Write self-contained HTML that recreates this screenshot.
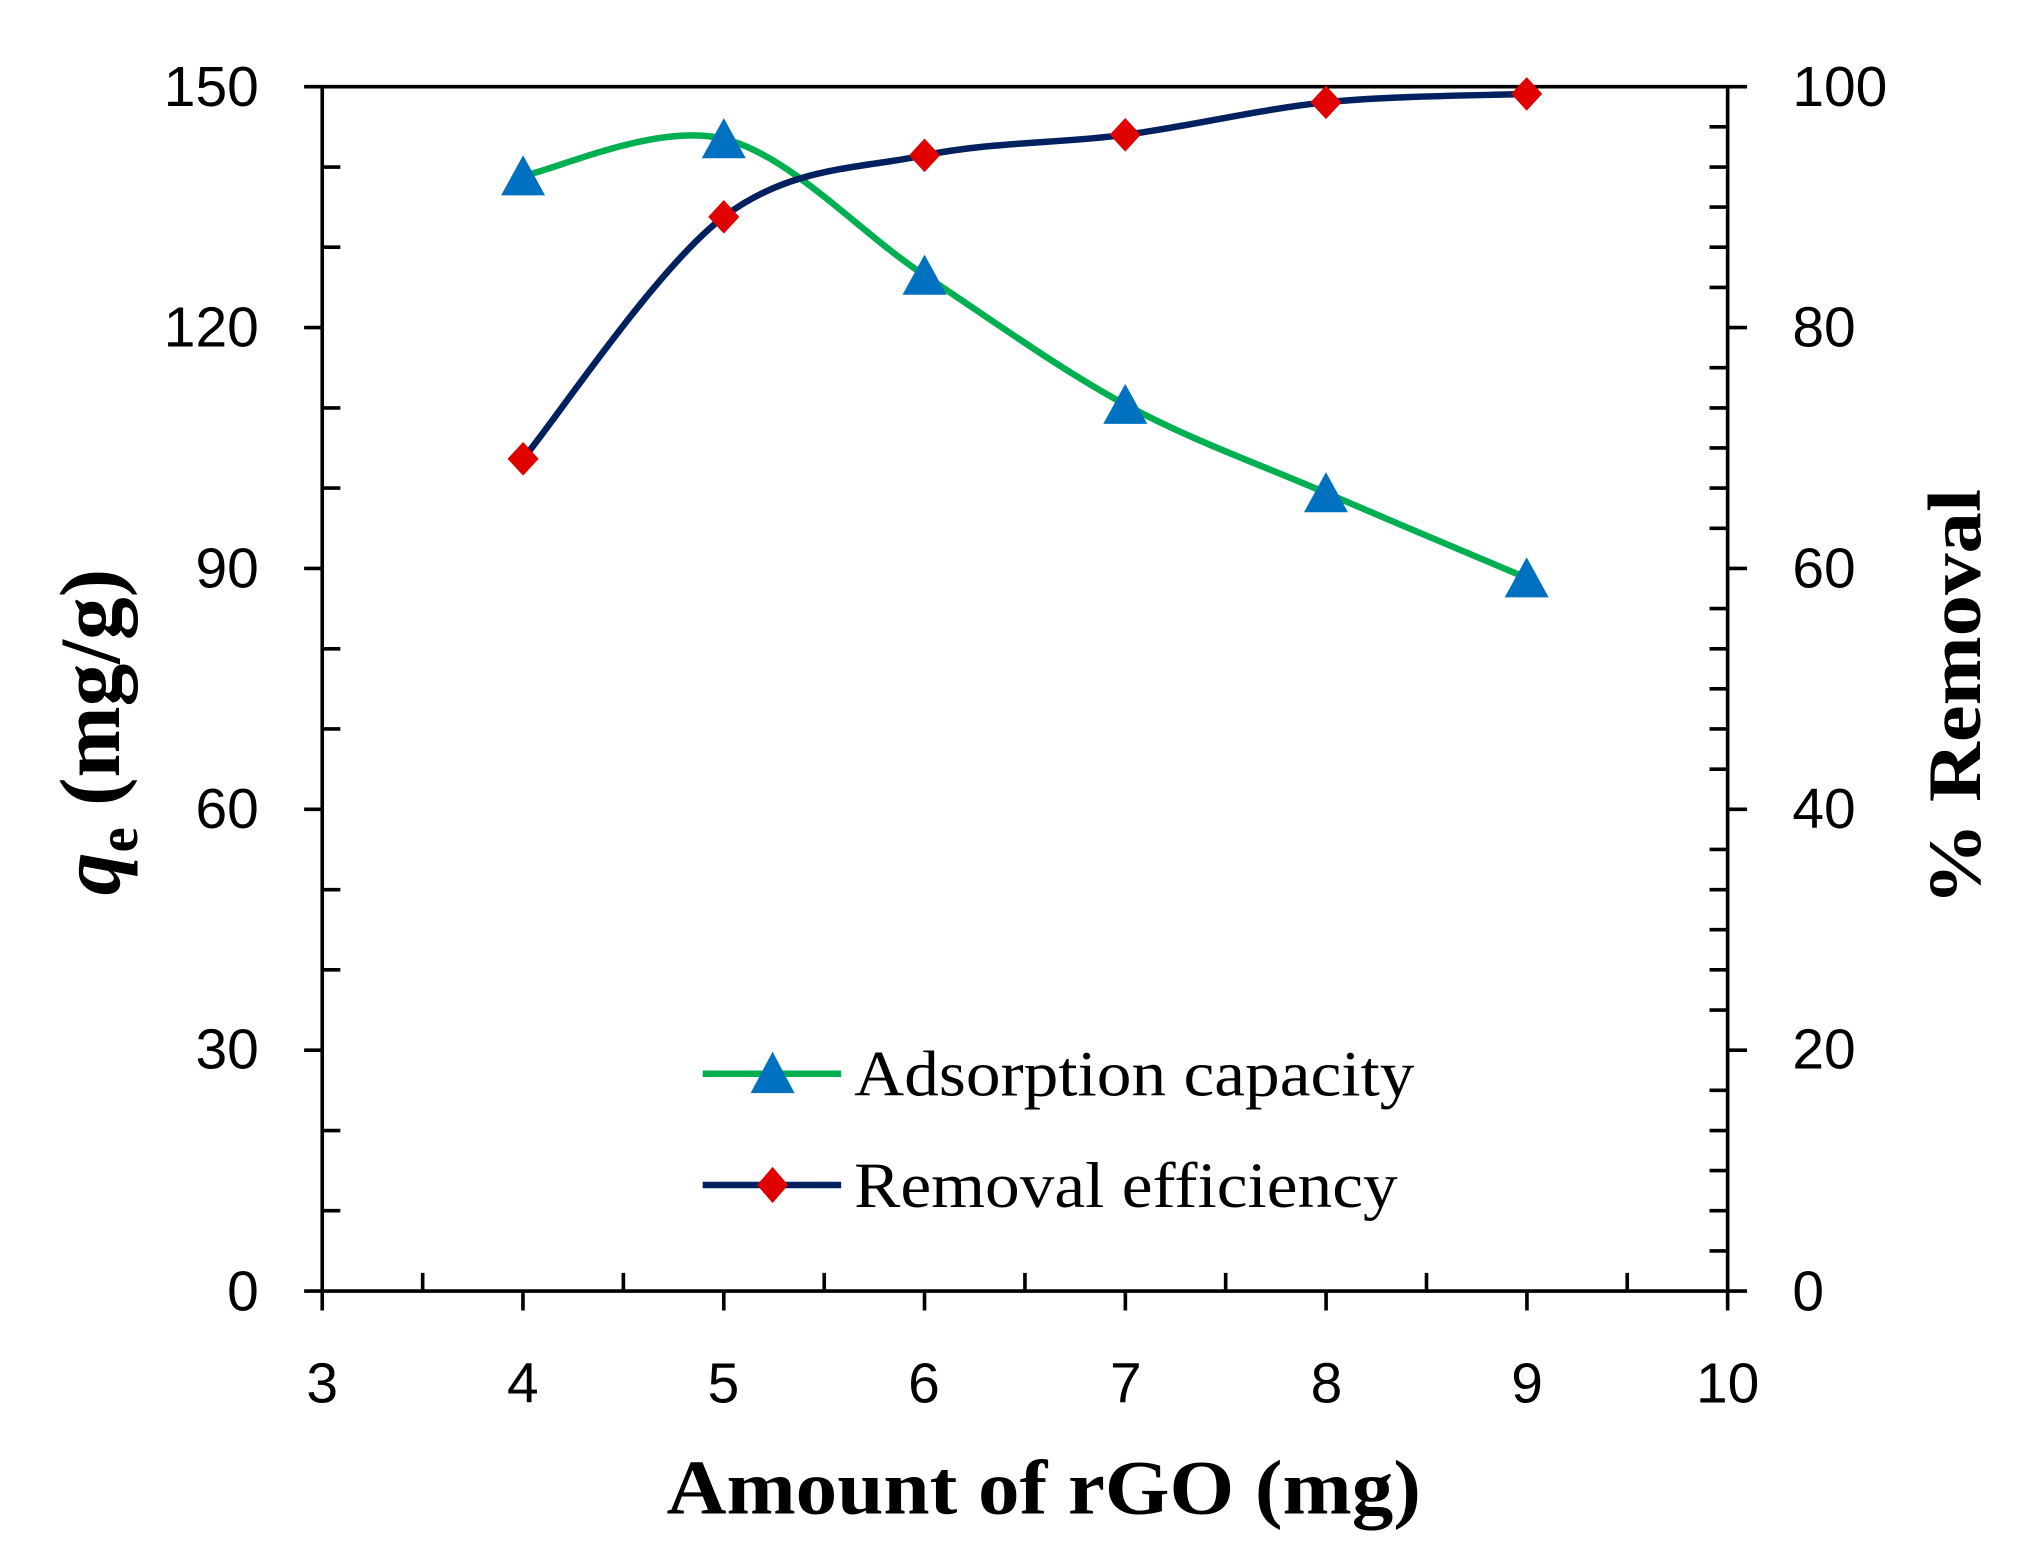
<!DOCTYPE html>
<html><head><meta charset="utf-8"><style>html,body{margin:0;padding:0;background:#fff;}svg{display:block;}</style></head>
<body>
<svg width="2024" height="1564" viewBox="0 0 1564 1209" preserveAspectRatio="none" xmlns="http://www.w3.org/2000/svg">
<rect width="1564" height="1209" fill="#fff"/>
<g stroke="#000" stroke-width="2.8" fill="none">
<path d="M249 67 V998 M1335 67 V998 M235 67 H1350 M235 998 H1350"/>
<path d="M235 253.2H249 M235 439.4H249 M235 625.6H249 M235 811.8H249"/>
<path d="M249 129.1H263 M249 191.1H263 M249 315.3H263 M249 377.3H263 M249 501.5H263 M249 563.5H263 M249 687.7H263 M249 749.7H263 M249 873.9H263 M249 935.9H263"/>
<path d="M1335 253.2H1350 M1335 439.4H1350 M1335 625.6H1350 M1335 811.8H1350"/>
<path d="M1321 98H1335 M1321 129.1H1335 M1321 160.1H1335 M1321 191.1H1335 M1321 222.2H1335 M1321 284.2H1335 M1321 315.3H1335 M1321 346.3H1335 M1321 377.3H1335 M1321 408.4H1335 M1321 470.4H1335 M1321 501.5H1335 M1321 532.5H1335 M1321 563.5H1335 M1321 594.6H1335 M1321 656.6H1335 M1321 687.7H1335 M1321 718.7H1335 M1321 749.7H1335 M1321 780.8H1335 M1321 842.8H1335 M1321 873.9H1335 M1321 904.9H1335 M1321 935.9H1335 M1321 967H1335"/>
<path d="M249 998V1013 M404.1 998V1013 M559.3 998V1013 M714.4 998V1013 M869.6 998V1013 M1024.7 998V1013 M1179.9 998V1013 M1335 998V1013"/>
<path d="M326.6 984V998 M481.7 984V998 M636.9 984V998 M792 984V998 M947.1 984V998 M1102.3 984V998 M1257.4 984V998"/>
</g>
<g font-family="'Liberation Sans', sans-serif" font-size="44" fill="#000">
<g text-anchor="end">
<text x="200" y="82">150</text><text x="200" y="268">120</text><text x="200" y="454">90</text><text x="200" y="640">60</text><text x="200" y="826">30</text><text x="200" y="1013">0</text>
</g>
<g text-anchor="start">
<text x="1385" y="82">100</text><text x="1385" y="268">80</text><text x="1385" y="454">60</text><text x="1385" y="640">40</text><text x="1385" y="826">20</text><text x="1385" y="1013">0</text>
</g>
<g text-anchor="middle">
<text x="249" y="1084">3</text><text x="404" y="1084">4</text><text x="559" y="1084">5</text><text x="714" y="1084">6</text><text x="870" y="1084">7</text><text x="1025" y="1084">8</text><text x="1180" y="1084">9</text><text x="1335" y="1084">10</text>
</g>
</g>
<text x="515" y="1170" font-family="'Liberation Serif', serif" font-weight="bold" font-size="60" textLength="583" lengthAdjust="spacingAndGlyphs">Amount of rGO (mg)</text>
<text transform="translate(92,692) rotate(-90)" font-family="'Liberation Serif', serif" font-weight="bold" font-size="66"><tspan font-style="italic">q</tspan><tspan font-size="44" dy="14">e</tspan><tspan dy="-14"> (mg/g)</tspan></text>
<text transform="translate(1530,700) rotate(-90)" font-family="'Liberation Serif', serif" font-weight="bold" font-size="58" textLength="322" lengthAdjust="spacingAndGlyphs">% Removal</text>
<path d="M404.2 135.9 C430.05 131.1 507.6 94.5 559.3 107.3 C611 120.1 662.7 178.6 714.4 212.8 C766.1 247 817.8 284.7 869.5 312.7 C921.2 340.7 972.9 358.65 1024.6 381 C1076.3 403.35 1153.85 435.8 1179.7 446.8" fill="none" stroke="#00b050" stroke-width="5"/>
<path d="M404.2 354.7 C430.05 323.5 507.6 206.7 559.3 167.6 C611 128.5 662.7 130.7 714.4 120.1 C766.1 109.5 817.8 111 869.5 104.2 C921.2 97.4 972.9 84.4 1024.6 79.1 C1076.3 73.8 1153.85 73.7 1179.7 72.6" fill="none" stroke="#002060" stroke-width="5"/>
<g fill="#0070c0">
<path d="M404.2 120l17 31h-34z"/><path d="M559.3 91.3l17 31h-34z"/><path d="M714.4 196.8l17 31h-34z"/><path d="M869.5 296.7l17 31h-34z"/><path d="M1024.6 365l17 31h-34z"/><path d="M1179.7 430.8l17 31h-34z"/>
</g>
<g fill="#e00000">
<path d="M404.2 341.7l12 13-12 13-12-13z"/><path d="M559.3 154.6l12 13-12 13-12-13z"/><path d="M714.4 107.1l12 13-12 13-12-13z"/><path d="M869.5 91.2l12 13-12 13-12-13z"/><path d="M1024.6 66.1l12 13-12 13-12-13z"/><path d="M1179.7 59.6l12 13-12 13-12-13z"/>
</g>
<line x1="543" y1="830" x2="650" y2="830" stroke="#00b050" stroke-width="5"/>
<path d="M597 813l17 32h-34z" fill="#0070c0"/>
<line x1="543" y1="916" x2="650" y2="916" stroke="#002060" stroke-width="5"/>
<path d="M597 902l12 14-12 14-12-14z" fill="#e00000"/>
<g font-family="'Liberation Serif', serif" font-size="50" fill="#000">
<text x="660" y="847" textLength="433" lengthAdjust="spacingAndGlyphs">Adsorption capacity</text>
<text x="660" y="933" textLength="420" lengthAdjust="spacingAndGlyphs">Removal efficiency</text>
</g>
</svg>
</body></html>
